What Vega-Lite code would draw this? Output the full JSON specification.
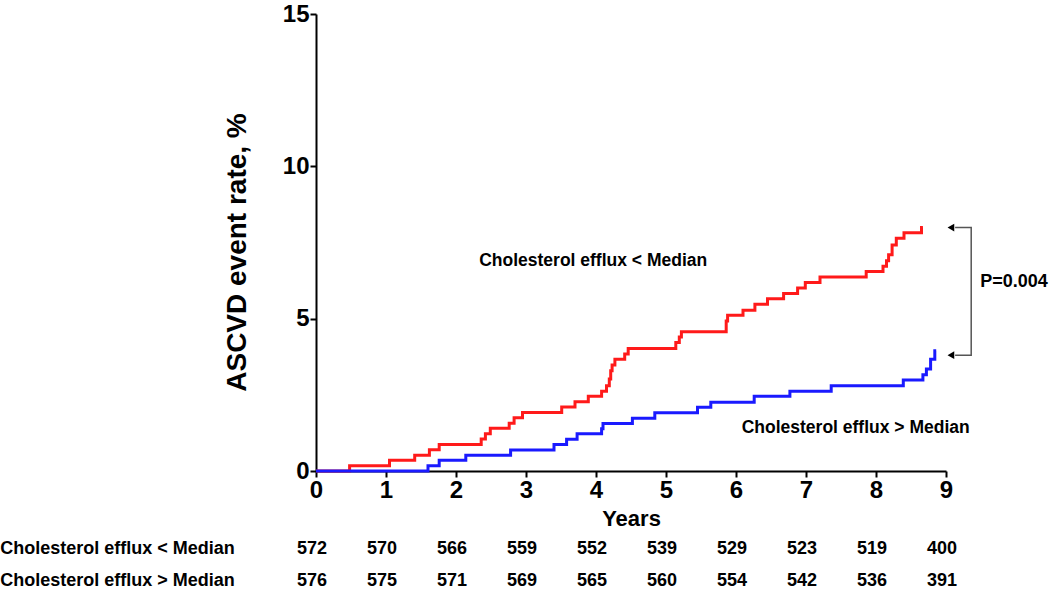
{
  "$schema": "https://vega.github.io/schema/vega-lite/v6.json",
  "width": 630,
  "height": 457,
  "autosize": {"type": "none"},
  "padding": {"left": 316, "top": 14, "right": 104, "bottom": 119},
  "background": "white",
  "config": {
    "view": {"stroke": null},
    "font": "Liberation Sans",
    "axis": {
      "grid": false,
      "domainColor": "black",
      "domainWidth": 2,
      "tickColor": "black",
      "tickWidth": 2,
      "tickSize": 6,
      "labelFont": "Liberation Sans Narrow, Liberation Sans",
      "labelFontWeight": "bold",
      "labelColor": "black",
      "titleFont": "Liberation Sans",
      "titleFontWeight": "bold",
      "titleColor": "black"
    }
  },
  "datasets": {
    "km": [
      {"group": "Cholesterol efflux < Median", "t": 0, "rate": 0},
      {"group": "Cholesterol efflux < Median", "t": 0.48, "rate": 0.17},
      {"group": "Cholesterol efflux < Median", "t": 1.05, "rate": 0.35},
      {"group": "Cholesterol efflux < Median", "t": 1.41, "rate": 0.52},
      {"group": "Cholesterol efflux < Median", "t": 1.62, "rate": 0.70},
      {"group": "Cholesterol efflux < Median", "t": 1.76, "rate": 0.87},
      {"group": "Cholesterol efflux < Median", "t": 2.36, "rate": 1.05},
      {"group": "Cholesterol efflux < Median", "t": 2.42, "rate": 1.22},
      {"group": "Cholesterol efflux < Median", "t": 2.49, "rate": 1.40},
      {"group": "Cholesterol efflux < Median", "t": 2.76, "rate": 1.57},
      {"group": "Cholesterol efflux < Median", "t": 2.83, "rate": 1.75},
      {"group": "Cholesterol efflux < Median", "t": 2.95, "rate": 1.92},
      {"group": "Cholesterol efflux < Median", "t": 3.51, "rate": 2.10},
      {"group": "Cholesterol efflux < Median", "t": 3.70, "rate": 2.27},
      {"group": "Cholesterol efflux < Median", "t": 3.89, "rate": 2.45},
      {"group": "Cholesterol efflux < Median", "t": 4.08, "rate": 2.62},
      {"group": "Cholesterol efflux < Median", "t": 4.15, "rate": 2.80},
      {"group": "Cholesterol efflux < Median", "t": 4.19, "rate": 3.02},
      {"group": "Cholesterol efflux < Median", "t": 4.21, "rate": 3.29},
      {"group": "Cholesterol efflux < Median", "t": 4.23, "rate": 3.48},
      {"group": "Cholesterol efflux < Median", "t": 4.27, "rate": 3.67},
      {"group": "Cholesterol efflux < Median", "t": 4.41, "rate": 3.84},
      {"group": "Cholesterol efflux < Median", "t": 4.46, "rate": 4.02},
      {"group": "Cholesterol efflux < Median", "t": 5.14, "rate": 4.22},
      {"group": "Cholesterol efflux < Median", "t": 5.19, "rate": 4.40},
      {"group": "Cholesterol efflux < Median", "t": 5.22, "rate": 4.57},
      {"group": "Cholesterol efflux < Median", "t": 5.86, "rate": 4.92},
      {"group": "Cholesterol efflux < Median", "t": 5.88, "rate": 5.11},
      {"group": "Cholesterol efflux < Median", "t": 6.10, "rate": 5.28},
      {"group": "Cholesterol efflux < Median", "t": 6.27, "rate": 5.47},
      {"group": "Cholesterol efflux < Median", "t": 6.45, "rate": 5.65},
      {"group": "Cholesterol efflux < Median", "t": 6.68, "rate": 5.83},
      {"group": "Cholesterol efflux < Median", "t": 6.88, "rate": 6.01},
      {"group": "Cholesterol efflux < Median", "t": 6.99, "rate": 6.19},
      {"group": "Cholesterol efflux < Median", "t": 7.20, "rate": 6.37},
      {"group": "Cholesterol efflux < Median", "t": 7.86, "rate": 6.55},
      {"group": "Cholesterol efflux < Median", "t": 8.10, "rate": 6.72},
      {"group": "Cholesterol efflux < Median", "t": 8.15, "rate": 6.90},
      {"group": "Cholesterol efflux < Median", "t": 8.18, "rate": 7.10},
      {"group": "Cholesterol efflux < Median", "t": 8.23, "rate": 7.42},
      {"group": "Cholesterol efflux < Median", "t": 8.29, "rate": 7.64},
      {"group": "Cholesterol efflux < Median", "t": 8.40, "rate": 7.82},
      {"group": "Cholesterol efflux < Median", "t": 8.65, "rate": 7.99},
      {"group": "Cholesterol efflux < Median", "t": 8.67, "rate": 7.99},
      {"group": "Cholesterol efflux > Median", "t": 0, "rate": 0},
      {"group": "Cholesterol efflux > Median", "t": 1.60, "rate": 0.17},
      {"group": "Cholesterol efflux > Median", "t": 1.76, "rate": 0.35},
      {"group": "Cholesterol efflux > Median", "t": 2.14, "rate": 0.52},
      {"group": "Cholesterol efflux > Median", "t": 2.78, "rate": 0.69},
      {"group": "Cholesterol efflux > Median", "t": 3.40, "rate": 0.87},
      {"group": "Cholesterol efflux > Median", "t": 3.58, "rate": 1.04},
      {"group": "Cholesterol efflux > Median", "t": 3.73, "rate": 1.22},
      {"group": "Cholesterol efflux > Median", "t": 4.08, "rate": 1.39},
      {"group": "Cholesterol efflux > Median", "t": 4.10, "rate": 1.56},
      {"group": "Cholesterol efflux > Median", "t": 4.52, "rate": 1.73},
      {"group": "Cholesterol efflux > Median", "t": 4.84, "rate": 1.91},
      {"group": "Cholesterol efflux > Median", "t": 5.45, "rate": 2.09},
      {"group": "Cholesterol efflux > Median", "t": 5.64, "rate": 2.26},
      {"group": "Cholesterol efflux > Median", "t": 6.26, "rate": 2.45},
      {"group": "Cholesterol efflux > Median", "t": 6.77, "rate": 2.62},
      {"group": "Cholesterol efflux > Median", "t": 7.36, "rate": 2.80},
      {"group": "Cholesterol efflux > Median", "t": 8.39, "rate": 2.99},
      {"group": "Cholesterol efflux > Median", "t": 8.67, "rate": 3.16},
      {"group": "Cholesterol efflux > Median", "t": 8.72, "rate": 3.35},
      {"group": "Cholesterol efflux > Median", "t": 8.78, "rate": 3.67},
      {"group": "Cholesterol efflux > Median", "t": 8.84, "rate": 3.95},
      {"group": "Cholesterol efflux > Median", "t": 8.86, "rate": 3.95}
    ],
    "labels": [
      {"text": "Cholesterol efflux < Median", "t": 3.96, "rate": 6.9},
      {"text": "Cholesterol efflux > Median", "t": 7.71, "rate": 1.4}
    ],
    "pval": [
      {"text": "P=0.004", "t": 9.49, "rate": 6.2}
    ],
    "bracket": [
      {"o": 1, "t": 9.13, "rate": 7.99},
      {"o": 2, "t": 9.36, "rate": 7.99},
      {"o": 3, "t": 9.36, "rate": 3.80},
      {"o": 4, "t": 9.13, "rate": 3.80}
    ],
    "arrows": [
      {"t": 9.07, "rate": 7.99},
      {"t": 9.07, "rate": 3.80}
    ],
    "rowlabels": [
      {"text": "Cholesterol efflux < Median", "t": -4.51, "rate": -2.55},
      {"text": "Cholesterol efflux > Median", "t": -4.51, "rate": -3.6}
    ],
    "risk": [
      {"t": 0, "rate": -2.55, "n": 572},
      {"t": 1, "rate": -2.55, "n": 570},
      {"t": 2, "rate": -2.55, "n": 566},
      {"t": 3, "rate": -2.55, "n": 559},
      {"t": 4, "rate": -2.55, "n": 552},
      {"t": 5, "rate": -2.55, "n": 539},
      {"t": 6, "rate": -2.55, "n": 529},
      {"t": 7, "rate": -2.55, "n": 523},
      {"t": 8, "rate": -2.55, "n": 519},
      {"t": 9, "rate": -2.55, "n": 400},
      {"t": 0, "rate": -3.6, "n": 576},
      {"t": 1, "rate": -3.6, "n": 575},
      {"t": 2, "rate": -3.6, "n": 571},
      {"t": 3, "rate": -3.6, "n": 569},
      {"t": 4, "rate": -3.6, "n": 565},
      {"t": 5, "rate": -3.6, "n": 560},
      {"t": 6, "rate": -3.6, "n": 554},
      {"t": 7, "rate": -3.6, "n": 542},
      {"t": 8, "rate": -3.6, "n": 536},
      {"t": 9, "rate": -3.6, "n": 391}
    ]
  },
  "layer": [
    {
      "data": {"name": "km"},
      "mark": {"type": "line", "interpolate": "step-after", "strokeWidth": 3},
      "encoding": {
        "x": {
          "field": "t", "type": "quantitative",
          "scale": {"domain": [0, 9], "nice": false, "zero": false},
          "axis": {"title": "Years", "values": [0,1,2,3,4,5,6,7,8,9], "format": "d", "labelFontSize": 24, "labelPadding": 1, "titleFontSize": 22, "titlePadding": 6, "labelFlush": false}
        },
        "y": {
          "field": "rate", "type": "quantitative",
          "scale": {"domain": [0, 15], "nice": false},
          "axis": {"title": "ASCVD event rate, %", "values": [0, 5, 10, 15], "format": "d", "labelFontSize": 24, "labelPadding": 1, "titleFontSize": 28, "titlePadding": 31, "titleY": 238, "labelFlush": false}
        },
        "color": {
          "field": "group", "type": "nominal",
          "scale": {"domain": ["Cholesterol efflux < Median", "Cholesterol efflux > Median"], "range": ["#ff1a1a", "#1a1aff"]},
          "legend": null
        }
      }
    },
    {
      "data": {"name": "labels"},
      "mark": {"type": "text", "fontSize": 17.5, "fontWeight": "bold", "color": "black", "align": "center", "baseline": "middle"},
      "encoding": {
        "x": {"field": "t", "type": "quantitative"},
        "y": {"field": "rate", "type": "quantitative"},
        "text": {"field": "text"}
      }
    },
    {
      "data": {"name": "pval"},
      "mark": {"type": "text", "fontSize": 18, "fontWeight": "bold", "color": "black", "align": "left", "baseline": "middle"},
      "encoding": {
        "x": {"field": "t", "type": "quantitative"},
        "y": {"field": "rate", "type": "quantitative"},
        "text": {"field": "text"}
      }
    },
    {
      "data": {"name": "bracket"},
      "mark": {"type": "line", "color": "#555555", "strokeWidth": 1.5},
      "encoding": {
        "x": {"field": "t", "type": "quantitative"},
        "y": {"field": "rate", "type": "quantitative"},
        "order": {"field": "o"}
      }
    },
    {
      "data": {"name": "arrows"},
      "mark": {"type": "point", "shape": "triangle-left", "filled": true, "color": "black", "size": 60, "opacity": 1},
      "encoding": {
        "x": {"field": "t", "type": "quantitative"},
        "y": {"field": "rate", "type": "quantitative"}
      }
    },
    {
      "data": {"name": "rowlabels"},
      "mark": {"type": "text", "fontSize": 18, "fontWeight": "bold", "color": "black", "align": "left", "baseline": "middle"},
      "encoding": {
        "x": {"field": "t", "type": "quantitative"},
        "y": {"field": "rate", "type": "quantitative"},
        "text": {"field": "text"}
      }
    },
    {
      "data": {"name": "risk"},
      "mark": {"type": "text", "fontSize": 18, "fontWeight": "bold", "color": "black", "align": "center", "baseline": "middle", "dx": -4},
      "encoding": {
        "x": {"field": "t", "type": "quantitative"},
        "y": {"field": "rate", "type": "quantitative"},
        "text": {"field": "n", "type": "quantitative", "format": "d"}
      }
    }
  ]
}
